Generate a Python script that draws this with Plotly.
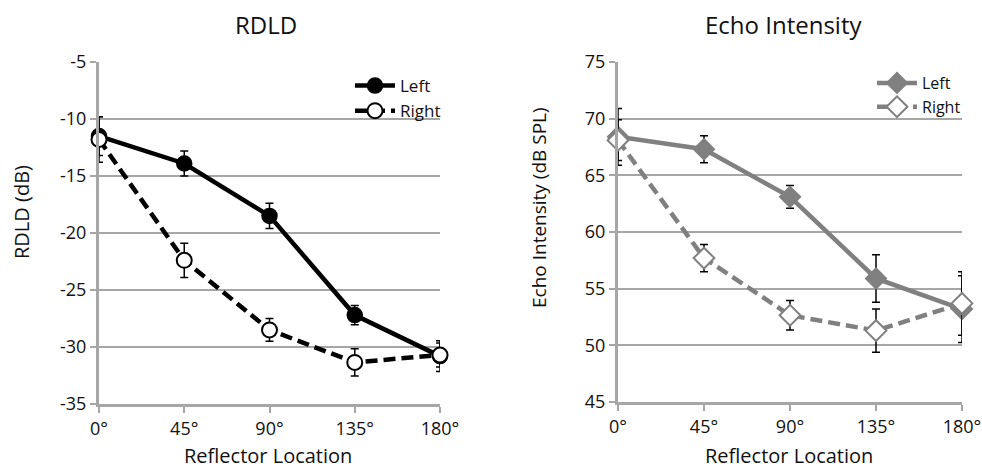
import plotly.graph_objects as go

locations = [0, 45, 90, 135, 180]
loc_labels = ["0°", "45°", "90°", "135°", "180°"]

rdld_ticks = [-35, -30, -25, -20, -15, -10, -5]
echo_ticks = [45, 50, 55, 60, 65, 70, 75]

rdld_left = [-11.5, -13.9, -18.5, -27.2, -30.8]
rdld_left_err = [1.7, 1.1, 1.1, 0.85, 1.35]
rdld_right = [-11.8, -22.4, -28.5, -31.35, -30.7]
rdld_right_err = [2.0, 1.5, 1.0, 1.2, 1.05]

echo_left = [68.4, 67.3, 63.1, 55.9, 53.2]
echo_left_err = [2.5, 1.2, 1.0, 2.1, 2.95]
echo_right = [68.1, 57.7, 52.65, 51.3, 53.7]
echo_right_err = [1.8, 1.2, 1.3, 1.9, 2.8]

W, H = 982, 468
FONT = "Open Sans"
GRID = "#a6a6a6"
GRAY = "#808080"
TXT = "#111"

def px_x(p):
    return p / W

def px_y(p):
    return 1 - p / H

fig = go.Figure()

def err(vals):
    return dict(type="data", array=vals, visible=True, color="black", thickness=1.5, width=4)

fig.add_trace(go.Scatter(x=locations, y=rdld_left, name="Left", mode="lines+markers",
                         line=dict(color="black", width=4.5),
                         marker=dict(symbol="circle", size=15, color="black", line=dict(color="black", width=1.5)),
                         error_y=err(rdld_left_err), xaxis="x", yaxis="y", legend="legend", cliponaxis=False))
fig.add_trace(go.Scatter(x=locations, y=rdld_right, name="Right", mode="lines+markers",
                         line=dict(color="black", width=4.5, dash="12px,6px"),
                         marker=dict(symbol="circle", size=15, color="white", line=dict(color="black", width=2)),
                         error_y=err(rdld_right_err), xaxis="x", yaxis="y", legend="legend", cliponaxis=False))

fig.add_trace(go.Scatter(x=locations, y=echo_left, name="Left", mode="lines+markers",
                         line=dict(color=GRAY, width=4.5),
                         marker=dict(symbol="diamond", size=16, color=GRAY, line=dict(color=GRAY, width=1.5)),
                         error_y=err(echo_left_err), xaxis="x2", yaxis="y2", legend="legend2", cliponaxis=False))
fig.add_trace(go.Scatter(x=locations, y=echo_right, name="Right", mode="lines+markers",
                         line=dict(color=GRAY, width=4.5, dash="12px,6px"),
                         marker=dict(symbol="diamond", size=16, color="white", line=dict(color=GRAY, width=2)),
                         error_y=err(echo_right_err), xaxis="x2", yaxis="y2", legend="legend2", cliponaxis=False))

xcommon = dict(range=[0, 180], tickvals=locations, ticktext=loc_labels, showgrid=False, automargin=False,
               showline=True, linecolor=GRID, linewidth=3, ticks="outside", ticklen=6,
               tickcolor=GRID, tickwidth=2, zeroline=False,
               tickfont=dict(family=FONT, size=18, color=TXT))
ycommon = dict(showgrid=True, gridcolor=GRID, gridwidth=2, showline=True, linecolor=GRID, linewidth=3,
               ticks="outside", ticklen=6, tickcolor=GRID, tickwidth=2, zeroline=False, automargin=False,
               tickfont=dict(family=FONT, size=18, color=TXT))

ydom = [px_y(404), px_y(62)]
ydom2 = [px_y(402), px_y(62)]

annotations = [
    dict(text="RDLD", x=px_x(266), y=px_y(24)),
    dict(text="Echo Intensity", x=px_x(783), y=px_y(24)),
    dict(text="Reflector Location", x=px_x(268), y=px_y(455), size=20),
    dict(text="Reflector Location", x=px_x(789), y=px_y(455), size=20),
    dict(text="RDLD (dB)", x=px_x(22), y=px_y(212), size=20, angle=-90),
    dict(text="Echo Intensity (dB SPL)", x=px_x(539), y=px_y(208), size=19, angle=-90),
]
ann = []
for a in annotations:
    ann.append(dict(text=a["text"], x=a["x"], y=a["y"], xref="paper", yref="paper", showarrow=False,
                    font=dict(family=FONT, size=a.get("size", 24), color=TXT),
                    textangle=a.get("angle", 0), xanchor="center", yanchor="middle"))

fig.update_layout(
    width=W, height=H, margin=dict(l=0, r=0, t=0, b=0, autoexpand=False),
    paper_bgcolor="white", plot_bgcolor="white", showlegend=True,
    xaxis=dict(domain=[px_x(99), px_x(440)], anchor="y", **xcommon),
    yaxis=dict(domain=ydom, anchor="x", range=[-35, -5], tickvals=rdld_ticks,
               ticktext=[str(v) for v in rdld_ticks], **ycommon),
    xaxis2=dict(domain=[px_x(618), px_x(962)], anchor="y2", **xcommon),
    yaxis2=dict(domain=ydom2, anchor="x2", range=[45, 75], tickvals=echo_ticks,
                ticktext=[str(v) for v in echo_ticks], **ycommon),
    legend=dict(x=px_x(350), y=px_y(68), xanchor="left", yanchor="top", bgcolor="rgba(0,0,0,0)",
                font=dict(family=FONT, size=17, color=TXT), tracegroupgap=0, itemwidth=40),
    legend2=dict(x=px_x(872), y=px_y(66), xanchor="left", yanchor="top", bgcolor="rgba(0,0,0,0)",
                 font=dict(family=FONT, size=16, color=TXT), tracegroupgap=0, itemwidth=40),
    annotations=ann,
)

fig.write_html("out.html")
